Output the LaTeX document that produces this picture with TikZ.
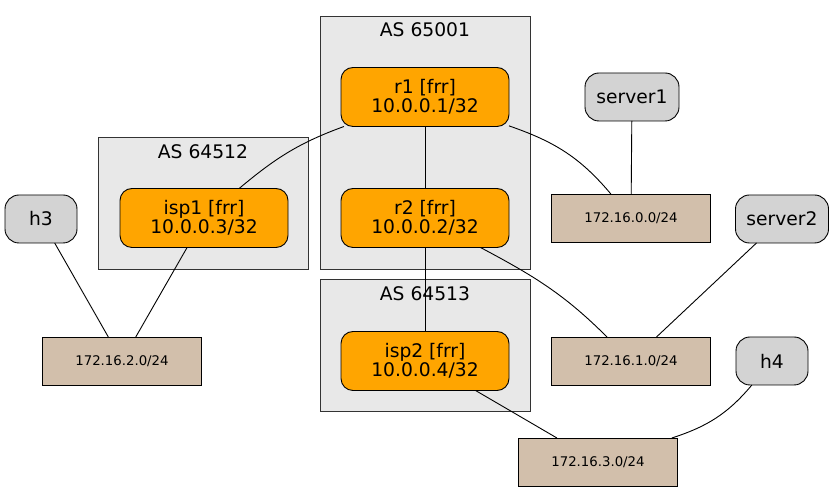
\documentclass[tikz,border=0pt]{standalone}
\usepackage{fontspec}
\setmainfont{DejaVu Sans}
\usetikzlibrary{positioning}
\definecolor{routerfill}{HTML}{FFA500}
\definecolor{hostfill}{HTML}{D3D3D3}
\definecolor{netfill}{HTML}{D2BFAB}
\definecolor{asfill}{HTML}{E8E8E8}

\begin{document}
\begin{tikzpicture}[x=1pt, y=1pt, every node/.style={draw, outer sep=0pt, inner sep=0pt, line width=0.9pt}]
	\tikzstyle{cluster}=[
		fill=asfill,
		draw=black!80,
		minimum width=210pt
	]
	\tikzstyle{aslabel}=[
		draw=none,
		font=\fontsize{18.7}{20}\selectfont
	]
	\tikzstyle{router}=[
		fill=routerfill,
		rounded corners=12pt,
		align=center,
		minimum width=168pt,
		minimum height=59pt,
		font=\fontsize{18.7}{19.5}\selectfont
	]
	\tikzstyle{host}=[
		fill=hostfill,
		rounded corners=14pt,
		minimum height=48pt,
		font=\fontsize{18.7}{20}\selectfont
	]
	\tikzstyle{net}=[
		fill=netfill,
		minimum width=159pt,
		minimum height=48pt,
		font=\fontsize{13.3}{15}\selectfont
	]
	\tikzstyle{link}=[line width=0.9pt]

	\useasboundingbox (0,0) rectangle (835,492);

	% autonomous systems
	\node (as65001) at (425,349.5) [cluster, minimum height=253pt] {};
	\node (as64512) at (203,289) [cluster, minimum height=132pt] {};
	\node (as64513) at (425,147) [cluster, minimum height=132pt] {};
	\node (as65001label) at (425,462) [aslabel] {AS 65001};
	\node (as64512label) at (203,340) [aslabel] {AS 64512};
	\node (as64513label) at (425,198) [aslabel] {AS 64513};

	\node (r1) at (425,395) [router] {r1 [frr]\\10.0.0.1/32};
	\node (r2) at (425,274) [router] {r2 [frr]\\10.0.0.2/32};
	\node (isp1) at (204,274) [router] {isp1 [frr]\\10.0.0.3/32};
	\node (isp2) at (425,131) [router] {isp2 [frr]\\10.0.0.4/32};

	\node (server1) at (632,395) [host, minimum width=94pt] {server1};
	\node (server2) at (782,273) [host, minimum width=93pt] {server2};
	\node (h3) at (41,273) [host, minimum width=72pt] {h3};
	\node (h4) at (772,131) [host, minimum width=72pt] {h4};

	\node (net0) at (631,274) [net] {172.16.0.0/24};
	\node (net1) at (631,131) [net] {172.16.1.0/24};
	\node (net2) at (122,131) [net] {172.16.2.0/24};
	\node (net3) at (598,30) [net] {172.16.3.0/24};

	\draw [link] (r1) to[out=200, in=40] (isp1);
	\draw [link] (r1) -- (r2);
	\draw [link] (r1) to[out=-19, in=130] (net0);
	\draw [link] (server1) -- (net0);
	\draw [link] (r2) to[out=-28, in=135] (net1);
	\draw [link] (server2) -- (net1);
	\draw [link] (r2) -- (isp2);
	\draw [link] (isp1) -- (net2);
	\draw [link] (h3) -- (net2);
	\draw [link] (isp2) -- (net3);
	\draw [link] (h4) to[out=230, in=18] (net3);
\end{tikzpicture}
\end{document}
